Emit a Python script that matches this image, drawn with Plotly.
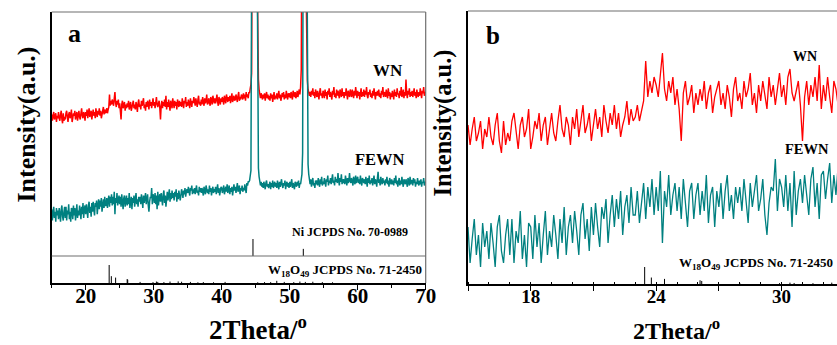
import numpy as np
import plotly.graph_objects as go

# ---------------- data ----------------
TWO_THETA_START = 15.0
TWO_THETA_STEP = 0.1

# WN intensity (a.u.), 15.0 -> 70.0 deg, step 0.1 (rows of 1 degree)
wn = [
    50, 45, 49, 52, 46, 48, 51, 44, 49, 47,
    52, 47, 45, 50, 53, 46, 43, 51, 45, 48,
    46, 51, 53, 48, 44, 50, 52, 47, 49, 54,
    44, 47, 51, 49, 53, 46, 50, 52, 45, 49,
    53, 48, 46, 51, 55, 49, 47, 52, 50, 45,
    52, 49, 54, 47, 51, 55, 48, 50, 53, 46,
    50, 54, 49, 52, 47, 55, 51, 48, 53, 50,
    55, 49, 53, 47, 50, 52, 56, 50, 54, 51,
    52, 55, 51, 54, 56, 66, 57, 61, 58, 62,
    60, 57, 63, 68, 59, 56, 61, 58, 62, 55,
    59, 54, 46, 58, 61, 55, 57, 60, 53, 58,
    55, 59, 56, 61, 54, 58, 60, 53, 57, 59,
    61, 55, 58, 54, 60, 57, 52, 59, 62, 56,
    58, 54, 61, 57, 59, 63, 55, 58, 53, 60,
    56, 61, 58, 54, 62, 57, 60, 55, 59, 63,
    57, 60, 55, 62, 64, 58, 56, 59, 61, 55,
    46, 57, 61, 55, 60, 57, 62, 56, 65, 54,
    60, 56, 62, 57, 53, 61, 59, 55, 63, 58,
    55, 61, 57, 60, 54, 62, 58, 56, 61, 57,
    60, 56, 63, 58, 55, 61, 59, 64, 56, 60,
    57, 62, 58, 55, 63, 60, 56, 61, 59, 64,
    61, 57, 63, 59, 56, 62, 65, 58, 60, 57,
    62, 58, 64, 60, 57, 63, 59, 61, 66, 58,
    59, 63, 60, 57, 64, 61, 58, 65, 62, 59,
    63, 59, 62, 66, 60, 57, 64, 61, 58, 63,
    60, 64, 61, 58, 65, 62, 59, 66, 63, 60,
    64, 61, 65, 59, 63, 67, 60, 62, 65, 61,
    62, 66, 63, 60, 65, 68, 61, 64, 62, 66,
    65, 62, 67, 63, 66, 61, 68, 64, 66, 63,
    68, 67, 71, 74, 83, 175, 445, 685, 765, 705,
    525, 325, 175, 93, 78, 70, 66, 63, 67, 64,
    62, 66, 63, 67, 61, 65, 68, 63, 66, 62,
    65, 61, 67, 63, 66, 60, 64, 68, 62, 65,
    63, 67, 62, 65, 69, 63, 66, 61, 65, 67,
    64, 68, 62, 66, 63, 69, 65, 62, 67, 64,
    67, 63, 68, 65, 62, 69, 66, 64, 68, 63,
    65, 69, 64, 67, 70, 66, 72, 86, 206, 446,
    586, 606, 496, 316, 156, 91, 77, 70, 68, 65,
    68, 64, 69, 66, 71, 65, 68, 63, 70, 66,
    64, 69, 66, 62, 68, 71, 65, 67, 63, 69,
    67, 63, 70, 65, 68, 62, 69, 66, 71, 64,
    68, 65, 62, 69, 66, 72, 64, 67, 63, 70,
    65, 69, 66, 63, 70, 67, 64, 71, 65, 68,
    63, 68, 65, 71, 66, 62, 69, 67, 64, 70,
    67, 64, 70, 66, 63, 69, 65, 72, 66, 63,
    69, 65, 68, 62, 67, 71, 64, 68, 65, 70,
    64, 69, 66, 72, 65, 63, 68, 66, 70, 64,
    67, 63, 69, 65, 71, 66, 62, 68, 65, 69,
    65, 70, 64, 67, 63, 69, 66, 72, 64, 67,
    68, 64, 70, 66, 63, 71, 65, 68, 62, 67,
    64, 69, 66, 62, 70, 65, 68, 64, 71, 66,
    67, 63, 69, 65, 72, 64, 66, 70, 63, 68,
    65, 78, 67, 63, 69, 66, 71, 64, 68, 65,
    69, 64, 67, 71, 65, 68, 63, 70, 66, 64,
    68, 65, 71, 66, 63, 69, 67, 72, 65, 68,
    67,
]

# FEWN intensity (a.u.), same grid
fewn = [
    55, 46, 52, 57, 48, 53, 45, 56, 50, 54,
    47, 56, 51, 45, 55, 58, 49, 46, 53, 57,
    48, 57, 46, 54, 51, 59, 47, 53, 45, 56,
    55, 47, 58, 50, 56, 46, 53, 59, 48, 54,
    50, 58, 53, 47, 57, 51, 60, 48, 55, 58,
    51, 59, 54, 48, 58, 61, 52, 57, 49, 60,
    53, 61, 55, 50, 60, 57, 62, 51, 58, 63,
    55, 62, 57, 64, 53, 60, 63, 56, 65, 58,
    58, 64, 56, 62, 66, 57, 65, 60, 67, 58,
    65, 59, 69, 51, 64, 60, 68, 58, 63, 66,
    59, 65, 57, 67, 61, 55, 64, 66, 57, 63,
    66, 58, 64, 59, 68, 56, 63, 65, 55, 64,
    60, 66, 57, 64, 68, 59, 63, 57, 65, 61,
    65, 59, 67, 62, 56, 66, 60, 64, 68, 59,
    62, 67, 58, 53, 61, 65, 64, 72, 59, 67,
    65, 60, 68, 59, 66, 55, 69, 58, 64, 67,
    61, 68, 63, 58, 67, 70, 60, 66, 57, 68,
    69, 62, 67, 71, 61, 68, 63, 70, 64, 68,
    62, 69, 65, 71, 61, 68, 63, 70, 66, 62,
    66, 71, 68, 64, 70, 67, 72, 65, 69, 71,
    68, 73, 69, 66, 72, 70, 74, 67, 71, 68,
    72, 67, 71, 74, 68, 70, 66, 73, 69, 72,
    68, 72, 69, 66, 73, 71, 67, 74, 70, 68,
    71, 67, 74, 69, 72, 66, 70, 73, 68, 71,
    69, 73, 67, 71, 75, 68, 72, 66, 70, 73,
    72, 68, 71, 74, 67, 70, 73, 69, 75, 68,
    70, 74, 67, 72, 69, 73, 66, 71, 75, 70,
    73, 68, 72, 76, 69, 71, 74, 67, 72, 70,
    74, 69, 72, 70, 75, 71, 68, 76, 74, 77,
    77, 78, 82, 86, 241, 492, 772, 922, 952, 872,
    692, 452, 272, 112, 88, 81, 77, 74, 77, 73,
    76, 72, 77, 74, 71, 76, 78, 73, 75, 72,
    74, 77, 71, 76, 73, 78, 72, 75, 77, 73,
    76, 72, 78, 74, 71, 77, 73, 76, 79, 74,
    72, 76, 74, 78, 71, 75, 77, 73, 76, 72,
    77, 73, 75, 79, 72, 76, 74, 71, 77, 75,
    73, 77, 74, 78, 72, 76, 75, 79, 83, 100,
    266, 576, 796, 836, 676, 306, 126, 91, 83, 78,
    75, 79, 73, 77, 80, 74, 76, 72, 78, 75,
    78, 74, 80, 76, 73, 79, 75, 81, 74, 77,
    75, 80, 76, 73, 79, 77, 82, 74, 78, 76,
    80, 75, 79, 83, 76, 78, 74, 81, 77, 79,
    76, 84, 78, 74, 80, 77, 83, 75, 79, 76,
    79, 75, 82, 77, 74, 80, 76, 78, 84, 77,
    76, 80, 77, 74, 81, 78, 75, 82, 76, 79,
    81, 76, 79, 75, 82, 77, 74, 80, 78, 76,
    79, 75, 81, 77, 73, 80, 76, 82, 75, 78,
    76, 80, 74, 78, 82, 75, 79, 77, 73, 80,
    85, 76, 79, 74, 81, 77, 75, 80, 76, 78,
    74, 79, 76, 81, 75, 78, 73, 80, 77, 75,
    79, 75, 78, 74, 80, 76, 82, 75, 78, 73,
    77, 80, 74, 78, 75, 81, 76, 73, 79, 77,
    75, 79, 76, 73, 80, 77, 74, 81, 75, 78,
    78, 74, 80, 76, 79, 73, 77, 75, 80, 76,
    74, 78, 75, 79, 73, 77, 76, 80, 74, 77,
    76,
]

# Reference patterns (position in 2theta, relative intensity %)
ni_pos = [44.6, 52.0]
ni_rel = [100, 42]
w18o49_pos = [23.45, 23.77, 24.40, 26.10, 26.18, 28.0, 29.9, 30.4, 30.6, 31.5,
              32.4, 33.6, 34.1, 35.4, 36.5, 37.3, 38.8, 40.5, 45.3, 46.3,
              47.2, 48.1, 49.2, 50.6, 51.5, 52.3, 53.4, 54.8, 56.3]
w18o49_rel = [100, 38, 30, 22, 18, 6, 5, 8, 6, 5,
              8, 9, 7, 6, 4, 5, 4, 6, 4, 5,
              5, 12, 6, 5, 8, 6, 7, 5, 4]

xa_ticks = [20, 30, 40, 50, 60, 70]
xb_ticks = [15, 18, 21, 24, 27, 30]
xb_ticktext = ["", "18", "", "24", "", "30"]

# ---------------- figure ----------------
W, H = 837, 345
FONT = "Liberation Serif"
RED = "#ff0000"
TEAL = "#008080"
FRAME_GREY = "#6e6e6e"

two_theta = np.round(TWO_THETA_START + TWO_THETA_STEP * np.arange(len(wn)), 2)
wn_arr = np.array(wn, dtype=float)
fewn_arr = np.array(fewn, dtype=float)

# display scaling/offsets of the stacked patterns in each panel
A_SCALE, A_WN_OFF, A_FEWN_OFF = 1.25, 106, 5
B_SCALE, B_WN_OFF, B_FEWN_OFF = 4.0, -41, -163


def sticks(pos, rel, base, full):
    xs, ys = [], []
    for p, r in zip(pos, rel):
        xs += [p, p, None]
        ys += [base, base + full * r / 100.0, None]
    return xs, ys


fig = go.Figure()

# Panel a
fig.add_trace(go.Scatter(x=two_theta, y=A_SCALE * wn_arr + A_WN_OFF, mode="lines",
                         line=dict(color=RED, width=1.5), xaxis="x", yaxis="y"))
fig.add_trace(go.Scatter(x=two_theta, y=A_SCALE * fewn_arr + A_FEWN_OFF, mode="lines",
                         line=dict(color=TEAL, width=1.5), xaxis="x", yaxis="y"))
sx, sy = sticks(ni_pos, ni_rel, 27, 17)
fig.add_trace(go.Scatter(x=sx, y=sy, mode="lines", line=dict(color="black", width=1),
                         xaxis="x", yaxis="y"))
sx, sy = sticks(w18o49_pos, w18o49_rel, 0, 18)
fig.add_trace(go.Scatter(x=sx, y=sy, mode="lines", line=dict(color="black", width=1),
                         xaxis="x", yaxis="y"))

# Panel b
fig.add_trace(go.Scatter(x=two_theta, y=B_SCALE * wn_arr + B_WN_OFF, mode="lines",
                         line=dict(color=RED, width=1.3), xaxis="x2", yaxis="y2"))
fig.add_trace(go.Scatter(x=two_theta, y=B_SCALE * fewn_arr + B_FEWN_OFF, mode="lines",
                         line=dict(color=TEAL, width=1.3), xaxis="x2", yaxis="y2"))
sx, sy = sticks(w18o49_pos, w18o49_rel, 0, 17)
fig.add_trace(go.Scatter(x=sx, y=sy, mode="lines", line=dict(color="black", width=1),
                         xaxis="x2", yaxis="y2"))

tickfont_a = dict(family=FONT, size=21, color="black", weight="bold")
tickfont_b = dict(family=FONT, size=19, color="black", weight="bold")

common_x = dict(showline=True, linecolor="black", linewidth=1.5, ticks="outside",
                tickcolor="black", tickwidth=1.2, showgrid=False, zeroline=False,
                automargin=False)
common_y = dict(showline=True, linecolor="black", linewidth=1.5, ticks="",
                showticklabels=False, showgrid=False, zeroline=False, automargin=False)

fig.update_layout(
    template="none",
    width=W, height=H, autosize=False,
    margin=dict(l=0, r=0, t=0, b=0, pad=0),
    paper_bgcolor="white", plot_bgcolor="white",
    showlegend=False,
    xaxis=dict(domain=[51.7 / W, 425.7 / W], range=[15, 70], anchor="y",
               tickmode="array", tickvals=xa_ticks, ticklen=5, tickfont=tickfont_a,
               minor=dict(tickmode="linear", tick0=15, dtick=5, ticks="outside",
                          ticklen=3, tickcolor="black", tickwidth=1),
               **common_x),
    yaxis=dict(domain=[(H - 283) / H, (H - 12) / H], range=[0, 271], anchor="x",
               **common_y),
    xaxis2=dict(domain=[468 / W, 1.0], range=[15, 32.65], anchor="y2",
                tickmode="array", tickvals=xb_ticks, ticktext=xb_ticktext, ticklen=5,
                tickfont=tickfont_b,
                minor=dict(tickmode="linear", tick0=15, dtick=1, ticks="inside",
                           ticklen=2, tickcolor="black", tickwidth=1),
                **common_x),
    yaxis2=dict(domain=[(H - 284) / H, (H - 11) / H], range=[0, 273], anchor="x2",
                **common_y),
)

# pull tick labels closer to the axis line (as in the reference)
try:
    fig.update_layout(xaxis_ticklabelstandoff=-12, xaxis2_ticklabelstandoff=-11)
except Exception:
    pass

# frame lines (grey top/right, separator in panel a)
fig.add_shape(type="line", xref="x domain", yref="y domain", x0=0, x1=1, y0=1, y1=1,
              line=dict(color=FRAME_GREY, width=1.2))
fig.add_shape(type="line", xref="x domain", yref="y domain", x0=1, x1=1, y0=0, y1=1,
              line=dict(color=FRAME_GREY, width=1.2))
fig.add_shape(type="line", xref="x domain", yref="y", x0=0, x1=1, y0=27, y1=27,
              line=dict(color=FRAME_GREY, width=1.2))
fig.add_shape(type="line", xref="x2 domain", yref="y2 domain", x0=0, x1=1, y0=1, y1=1,
              line=dict(color=FRAME_GREY, width=1.2))


def ann(text, px, py, size, angle=0):
    fig.add_annotation(text=text, x=px / W, y=1 - py / H, xref="paper", yref="paper",
                       showarrow=False, xanchor="center", yanchor="middle",
                       textangle=angle,
                       font=dict(family=FONT, size=size, color="black", weight="bold"))


# panel a texts
ann("a", 74, 33, 26)
ann("WN", 388, 71, 17)
ann("FEWN", 380, 159.5, 16.5)
ann("Ni JCPDS No. 70-0989", 349.5, 232, 12)
ann("W<sub>18</sub>O<sub>49</sub> JCPDS No. 71-2450", 344.5, 270, 13)
ann("Intensity(a.u.)", 26, 124.5, 26, angle=-90)
ann("2Theta/<sup>o</sup>", 258, 328, 27)

# panel b texts
ann("b", 493.5, 35, 25)
ann("WN", 805, 57, 14)
ann("FEWN", 806.5, 149, 14.5)
ann("W<sub>18</sub>O<sub>49</sub> JCPDS No. 71-2450", 756, 263, 13)
ann("Intensity(a.u.)", 442.5, 123, 24.5, angle=-90)
ann("2Theta/<sup>o</sup>", 676.5, 329, 24)

fig.write_html(
    "out.html",
    config={"displayModeBar": False},
    post_script="document.documentElement.style.margin='0';"
                "document.body.style.margin='0';document.body.style.padding='0';"
                "document.body.style.overflow='hidden';",
)
